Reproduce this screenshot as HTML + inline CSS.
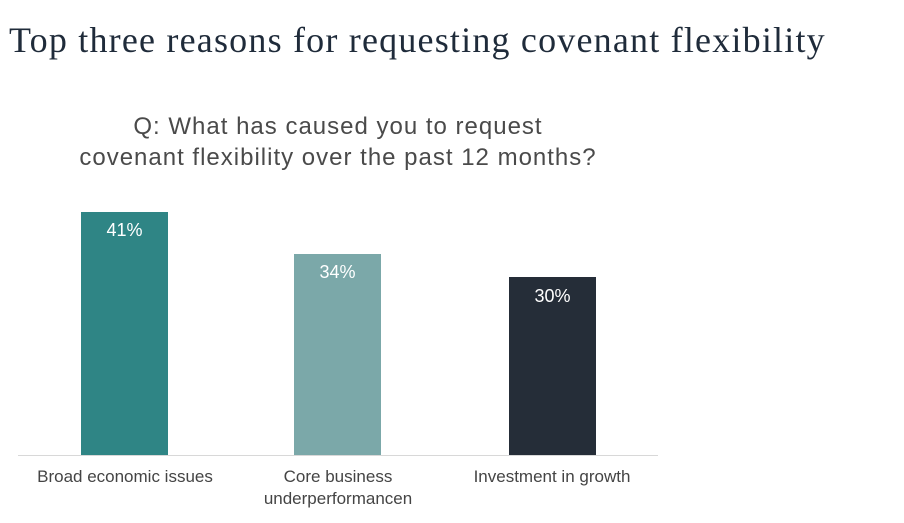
<!DOCTYPE html>
<html><head><meta charset="utf-8"><style>
body{margin:0;width:904px;height:523px;background:#fff;position:relative;overflow:hidden;font-family:"Liberation Sans",sans-serif}
.t{position:absolute;left:9px;top:19px;font-family:"Liberation Serif",serif;font-size:36px;letter-spacing:1.2px;color:#1f2b3a;white-space:nowrap}
.q{position:absolute;left:18px;width:640px;text-align:center;top:111px;font-size:24px;letter-spacing:1px;line-height:31px;color:#4a4a4a}
.b{position:absolute;width:87px}
.v{position:absolute;width:87px;text-align:center;color:#fff;font-size:18px}
.l{position:absolute;width:214px;text-align:center;font-size:17px;line-height:22px;color:#444}
</style></head><body>
<div class="t">Top three reasons for requesting covenant flexibility</div>
<div class="q">Q: What has caused you to request<br>covenant flexibility over the past 12 months?</div>
<div class="b" style="left:81px;top:212px;height:244px;background:#2f8585"></div>
<div class="b" style="left:294px;top:254px;height:202px;background:#7ba8a9"></div>
<div class="b" style="left:509px;top:277px;height:179px;background:#252d38"></div>
<div class="v" style="left:81px;top:220px">41%</div>
<div class="v" style="left:294px;top:262px">34%</div>
<div class="v" style="left:509px;top:286px">30%</div>
<div style="position:absolute;left:18px;top:455px;width:640px;height:1px;background:#d8d8d8"></div>
<div class="l" style="left:18px;top:466px">Broad economic issues</div>
<div class="l" style="left:231px;top:466px">Core business<br>underperformancen</div>
<div class="l" style="left:445px;top:466px">Investment in growth</div>
</body></html>
